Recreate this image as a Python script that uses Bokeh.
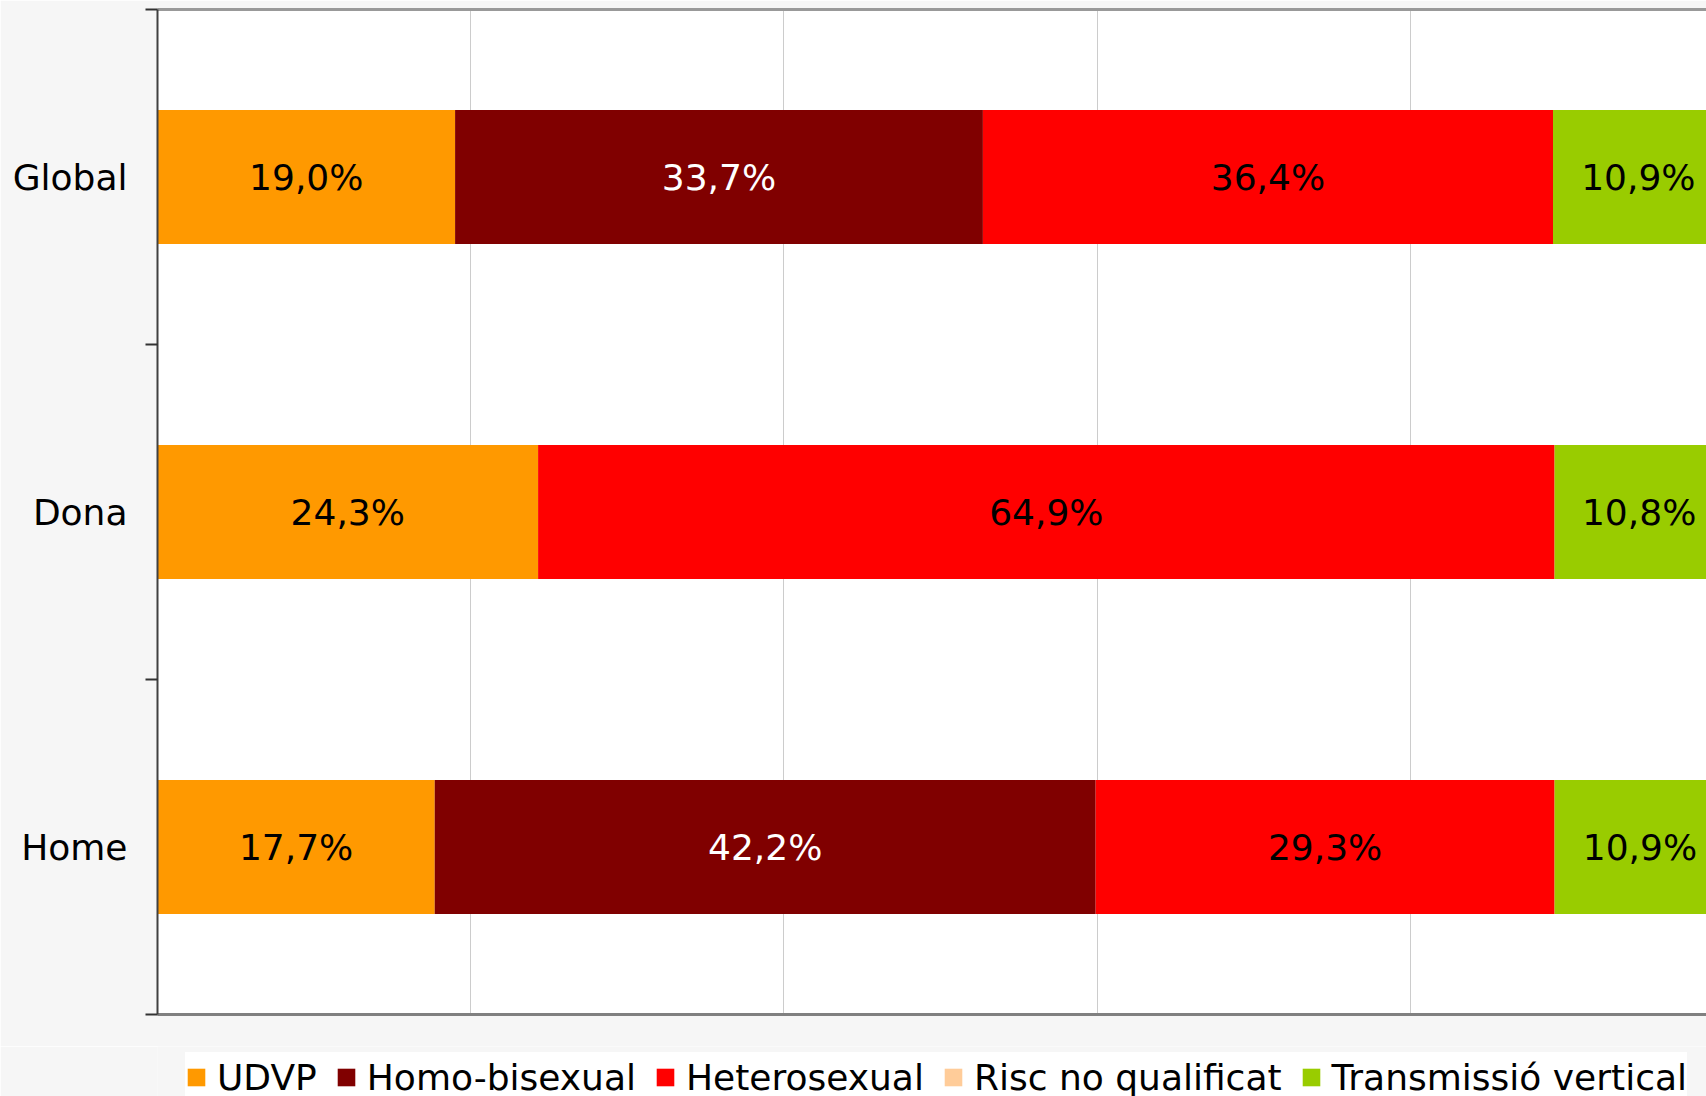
from bokeh.plotting import figure
from bokeh.models import ColumnDataSource, FixedTicker, LinearAxis, Legend, LegendItem
from bokeh.layouts import column
from bokeh.core.properties import value
from bokeh.embed import file_html
from bokeh.resources import INLINE

categories = ["Global", "Dona", "Home"]
series = ["UDVP", "Homo-bisexual", "Heterosexual", "Risc no qualificat", "Transmissió vertical"]
udvp = [19.0, 24.3, 17.7]
homo_bisexual = [33.7, 0.0, 42.2]
heterosexual = [36.4, 64.9, 29.3]
risc_no_qualificat = [0.0, 0.0, 0.0]
transmissio_vertical = [10.9, 10.8, 10.9]
colors = ["#ff9900", "#800000", "#ff0000", "#ffcc99", "#99cc00"]
label_colors = ["black", "white", "black", "black", "black"]
x_ticks = [0, 20, 40, 60, 80, 100]

values = [udvp, homo_bisexual, heterosexual, risc_no_qualificat, transmissio_vertical]
keys = ["s%d" % i for i in range(len(series))]
n = len(categories)
ypos = [n - i - 0.5 for i in range(n)]

data = {"y": ypos}
for k, v in zip(keys, values):
    data[k] = v
src = ColumnDataSource(data)

FONT = "DejaVu Sans"
BORDER = "#f6f6f6"

p = figure(width=1706, height=1046, x_range=(0, 98.9), y_range=(0, n),
           output_backend="svg", toolbar_location=None,
           min_border_left=157, min_border_right=0, min_border_top=9, min_border_bottom=32,
           border_fill_color=BORDER, background_fill_color="white",
           outline_line_color=None)

renderers = p.hbar_stack(keys, y="y", height=0.4, color=colors, source=src, line_color=None)

# segment labels
lx, ly, lt, lc = [], [], [], []
for i in range(n):
    cum = 0.0
    for j, v in enumerate(values):
        if v[i] > 0:
            lx.append(cum + v[i] / 2.0)
            ly.append(ypos[i])
            lt.append(("%.1f%%" % v[i]).replace(".", ","))
            lc.append(label_colors[j])
        cum += v[i]
p.text(x=lx, y=ly, text=lt, text_color=lc, text_align="center", text_baseline="middle",
       text_font=value(FONT), text_font_size="36px")

# axes
p.xaxis.ticker = FixedTicker(ticks=[])
p.xaxis.axis_line_color = "#808080"
p.xaxis.axis_line_width = 3
p.xaxis.major_tick_line_color = None
p.xaxis.minor_tick_line_color = None
p.xaxis.major_label_text_font_size = "0px"

p.yaxis.ticker = FixedTicker(ticks=ypos, minor_ticks=list(range(n + 1)))
p.yaxis.major_label_overrides = {float(y): c for y, c in zip(ypos, categories)}
p.yaxis.major_label_text_font = FONT
p.yaxis.major_label_text_font_size = "36px"
p.yaxis.major_label_text_color = "black"
p.yaxis.major_label_standoff = 18
p.yaxis.major_tick_line_color = None
p.yaxis.major_tick_out = 0
p.yaxis.major_tick_in = 0
p.yaxis.minor_tick_line_color = "#333333"
p.yaxis.minor_tick_line_width = 2
p.yaxis.minor_tick_out = 12
p.yaxis.minor_tick_in = 0
p.yaxis.axis_line_color = "#404040"
p.yaxis.axis_line_width = 2

top_axis = LinearAxis(ticker=FixedTicker(ticks=[]), axis_line_color="#999999", axis_line_width=3,
                      major_tick_line_color=None, minor_tick_line_color=None,
                      major_label_text_font_size="0px")
p.add_layout(top_axis, "above")

p.xgrid.ticker = FixedTicker(ticks=x_ticks)
p.xgrid.grid_line_color = "#cccccc"
p.xgrid.grid_line_width = 1
p.ygrid.grid_line_color = None

# legend strip below the chart (same frame borders so the column keeps frames aligned)
pl = figure(width=1706, height=50, x_range=(0, 1), y_range=(0, 1),
            output_backend="svg", toolbar_location=None,
            min_border_left=157, min_border_right=0, min_border_top=0, min_border_bottom=0,
            border_fill_color=BORDER, background_fill_color=BORDER,
            outline_line_color=None)
pl.axis.visible = False
pl.grid.visible = False
# legend proxies: placed outside the visible range, they only provide legend swatches
leg_renderers = [pl.quad(left=[-5], right=[-4], bottom=[-5], top=[-4], color=c, line_color=None)
                 for c in colors]
legend = Legend(items=[LegendItem(label=s, renderers=[r]) for s, r in zip(series, leg_renderers)],
                orientation="horizontal", location=(28, -6),
                label_text_font=FONT, label_text_font_size="36px", label_text_color="black",
                glyph_width=22, glyph_height=22, label_standoff=10, spacing=18,
                padding=3, margin=0, background_fill_color="white", background_fill_alpha=1,
                border_line_color=None, label_height=50)
pl.add_layout(legend, "center")

layout = column(p, pl, spacing=0)
open("out.html", "w").write(file_html(layout, INLINE))
